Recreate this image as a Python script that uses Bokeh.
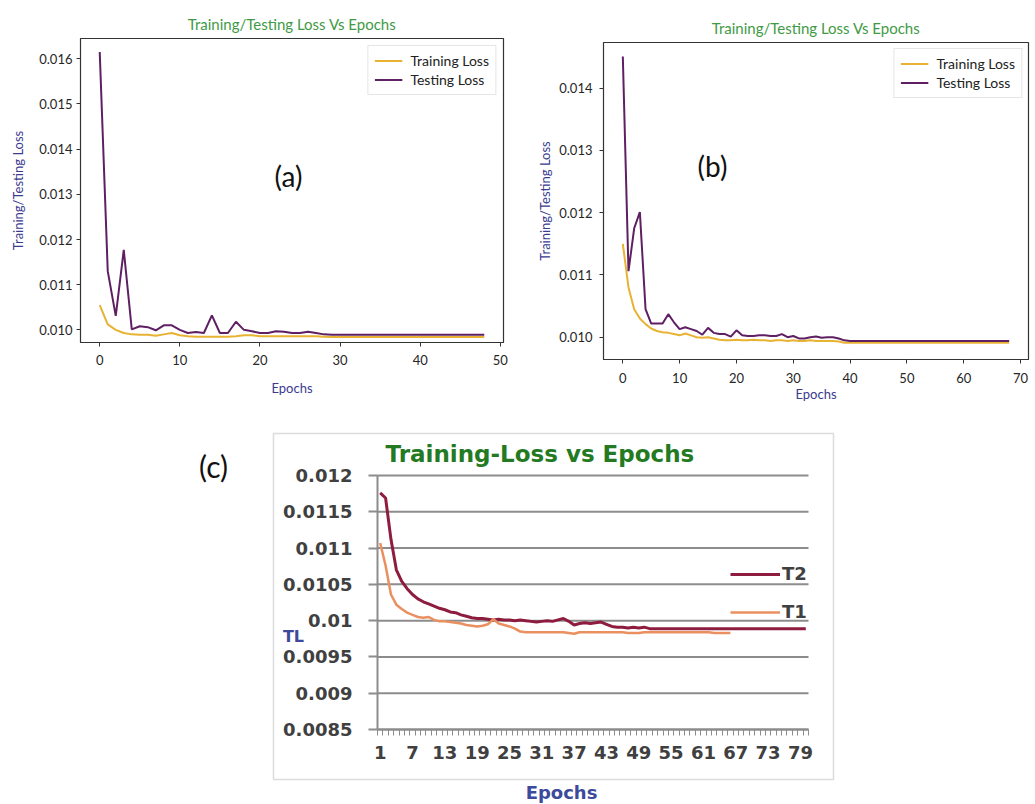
from bokeh.plotting import figure
from bokeh.layouts import column, row
from bokeh.models import (Range1d, FixedTicker, PrintfTickFormatter, NumeralTickFormatter,
                          Legend, LegendItem, Label, BoxAnnotation)
from bokeh.embed import file_html
from bokeh.resources import INLINE

# ---------------- data ----------------
# panel (a)
train_a = [0.01055, 0.01012, 0.01000, 0.00993, 0.00990, 0.00989, 0.00989, 0.00987, 0.00990, 0.00993,
           0.00988, 0.00986, 0.00985, 0.00985, 0.00985, 0.00985, 0.00985, 0.00986, 0.00988, 0.00988,
           0.00986, 0.00986, 0.00986, 0.00986, 0.00986, 0.00986, 0.00986, 0.00986, 0.00985,
           0.00984, 0.00984, 0.00984, 0.00984, 0.00984, 0.00984, 0.00984, 0.00984, 0.00984, 0.00984,
           0.00984, 0.00984, 0.00984, 0.00984, 0.00984, 0.00984, 0.00984, 0.00984, 0.00984, 0.00984]
test_a = [0.01615, 0.01130, 0.01031, 0.01177, 0.01001, 0.01008, 0.01006, 0.00999, 0.01010, 0.01010,
          0.01000, 0.00993, 0.00995, 0.00993, 0.01032, 0.00993, 0.00993, 0.01018, 0.01000, 0.00997,
          0.00993, 0.00993, 0.00997, 0.00996, 0.00993, 0.00993, 0.00996, 0.00993, 0.00990,
          0.00989, 0.00989, 0.00989, 0.00989, 0.00989, 0.00989, 0.00989, 0.00989, 0.00989, 0.00989,
          0.00989, 0.00989, 0.00989, 0.00989, 0.00989, 0.00989, 0.00989, 0.00989, 0.00989, 0.00989]
epochs_a = list(range(len(test_a)))

# panel (b)
train_b = [0.01150, 0.01080, 0.01045, 0.01030, 0.01021, 0.01014, 0.01010, 0.01008, 0.01007, 0.01005,
           0.01003, 0.01006, 0.01003, 0.01000, 0.00999, 0.01000, 0.00998, 0.00996, 0.00995, 0.00995,
           0.00996, 0.00995, 0.00995, 0.00996, 0.00995, 0.00995, 0.00994, 0.00995, 0.00995, 0.00994,
           0.00995, 0.00994, 0.00994, 0.00995, 0.00994, 0.00994, 0.00994, 0.00994, 0.00993,
           0.00991, 0.00991, 0.00991, 0.00991, 0.00991, 0.00991, 0.00991, 0.00991, 0.00991, 0.00991,
           0.00991, 0.00991, 0.00991, 0.00991, 0.00991, 0.00991, 0.00991, 0.00991, 0.00991, 0.00991,
           0.00991, 0.00991, 0.00991, 0.00991, 0.00991, 0.00991, 0.00991, 0.00991, 0.00991, 0.00991]
test_b = [0.01451, 0.01106, 0.01175, 0.01201, 0.01045, 0.01022, 0.01022, 0.01022, 0.01037, 0.01024,
          0.01013, 0.01016, 0.01013, 0.01010, 0.01004, 0.01015, 0.01007, 0.01005, 0.01005, 0.01001,
          0.01011, 0.01003, 0.01002, 0.01002, 0.01003, 0.01003, 0.01002, 0.01002, 0.01005, 0.01000,
          0.01002, 0.00998, 0.00998, 0.01000, 0.01001, 0.00999, 0.01000, 0.01000, 0.00998, 0.00995,
          0.00994, 0.00994, 0.00994, 0.00994, 0.00994, 0.00994, 0.00994, 0.00994, 0.00994, 0.00994,
          0.00994, 0.00994, 0.00994, 0.00994, 0.00994, 0.00994, 0.00994, 0.00994, 0.00994, 0.00994,
          0.00994, 0.00994, 0.00994, 0.00994, 0.00994, 0.00994, 0.00994, 0.00994, 0.00994]
epochs_b = list(range(len(test_b)))

# panel (c)
t2_c = [0.01176, 0.01169, 0.01112, 0.01070, 0.01054, 0.01044, 0.01036, 0.01030, 0.01026, 0.01023,
        0.01020, 0.01017, 0.01015, 0.01012, 0.01011, 0.01008, 0.01006, 0.01004, 0.01003, 0.01003,
        0.01002, 0.01001, 0.01002, 0.01001, 0.01001, 0.01000, 0.01001, 0.01000, 0.00999, 0.00998,
        0.00999, 0.01000, 0.00999, 0.01001, 0.01003, 0.00999, 0.00994, 0.00996, 0.00997, 0.00996,
        0.00997, 0.00998, 0.00995, 0.00992, 0.00991, 0.00991, 0.00990, 0.00991, 0.00990, 0.00991,
        0.00989, 0.00989, 0.00989, 0.00989, 0.00989, 0.00989, 0.00989, 0.00989, 0.00989, 0.00989,
        0.00989, 0.00989, 0.00989, 0.00989, 0.00989, 0.00989, 0.00989, 0.00989, 0.00989, 0.00989,
        0.00989, 0.00989, 0.00989, 0.00989, 0.00989, 0.00989, 0.00989, 0.00989, 0.00989, 0.00989]
t1_c = [0.01107, 0.01076, 0.01036, 0.01022, 0.01016, 0.01011, 0.01008, 0.01005, 0.01004, 0.01005,
        0.01001, 0.00999, 0.00999, 0.00998, 0.00997, 0.00996, 0.00994, 0.00993, 0.00992, 0.00993,
        0.00995, 0.01002, 0.00996, 0.00994, 0.00992, 0.00989, 0.00985, 0.00984, 0.00984, 0.00984,
        0.00984, 0.00984, 0.00984, 0.00984, 0.00984, 0.00983, 0.00982, 0.00984, 0.00984, 0.00984,
        0.00984, 0.00984, 0.00984, 0.00984, 0.00984, 0.00984, 0.00983, 0.00983, 0.00983, 0.00984,
        0.00984, 0.00984, 0.00984, 0.00984, 0.00984, 0.00984, 0.00984, 0.00984, 0.00984, 0.00984,
        0.00984, 0.00984, 0.00983, 0.00983, 0.00983, 0.00983]
epochs_c2 = list(range(1, len(t2_c) + 1))
epochs_c1 = list(range(1, len(t1_c) + 1))

xticks_a = [0, 10, 20, 30, 40, 50]
yticks_a = [0.010, 0.011, 0.012, 0.013, 0.014, 0.015, 0.016]
xticks_b = [0, 10, 20, 30, 40, 50, 60, 70]
yticks_b = [0.010, 0.011, 0.012, 0.013, 0.014]
xticks_c = list(range(1, 80, 6))
yticks_c = [0.0085, 0.009, 0.0095, 0.010, 0.0105, 0.011, 0.0115, 0.012]

TRAIN_COL = "#e8b233"
TEST_COL = "#5e1f63"
FONT = "Lato"


def style_mpl(p, xticks, yticks, title):
    p.title.text = title
    p.title.align = "center"
    p.title.text_font = FONT
    p.title.text_font_size = "15px"
    p.title.text_font_style = "normal"
    p.title.text_color = "#3f9a45"
    p.title.standoff = 12
    p.xaxis.ticker = FixedTicker(ticks=xticks)
    p.yaxis.ticker = FixedTicker(ticks=yticks)
    p.yaxis.formatter = PrintfTickFormatter(format="%.3f")
    p.grid.visible = False
    p.outline_line_color = "#333333"
    p.outline_line_width = 1.2
    for ax in p.axis:
        ax.axis_line_color = "#333333"
        ax.major_tick_line_color = "#333333"
        ax.major_tick_out = 4
        ax.major_tick_in = 0
        ax.minor_tick_line_color = None
        ax.major_label_text_font = FONT
        ax.major_label_text_font_size = "13px"
        ax.major_label_text_color = "#262626"
        ax.axis_label_text_font = FONT
        ax.axis_label_text_font_size = "13px"
        ax.axis_label_text_font_style = "normal"
        ax.axis_label_text_color = "#3b3b8f"


def add_legend(p, r_train, r_test, margin):
    leg = Legend(items=[LegendItem(label="Training Loss", renderers=[r_train]),
                        LegendItem(label="Testing Loss", renderers=[r_test])],
                 location="top_right", margin=margin, padding=6, spacing=2,
                 glyph_width=28, glyph_height=17, label_height=17, label_standoff=8,
                 label_text_font=FONT, label_text_font_size="14px", label_text_color="#222222",
                 border_line_color="#cccccc", background_fill_alpha=0.9)
    p.add_layout(leg)


# ---------------- panel (a) ----------------
pa = figure(width=528, height=406, output_backend="svg", toolbar_location=None, frame_align=False,
            x_range=Range1d(-2.4, 50.4), y_range=Range1d(0.00972, 0.01645),
            min_border_left=80, min_border_right=25, min_border_top=38, min_border_bottom=64,
            x_axis_label="Epochs", y_axis_label="Training/Testing Loss")
style_mpl(pa, xticks_a, yticks_a, "Training/Testing Loss Vs Epochs")
pa.xaxis.major_label_standoff = 8
pa.xaxis.axis_label_standoff = 12
pa.yaxis.major_label_standoff = 4
pa.yaxis.axis_label_standoff = 10
ra1 = pa.line(epochs_a, train_a, line_color=TRAIN_COL, line_width=2)
ra2 = pa.line(epochs_a, test_a, line_color=TEST_COL, line_width=2)
add_legend(pa, ra1, ra2, 7)
pa.add_layout(Label(x=208, y=167, x_units="screen", y_units="screen", text="(a)",
                    text_align="center", text_baseline="middle", text_font=FONT,
                    text_font_size="28px", text_color="#111111"))

# ---------------- panel (b) ----------------
pb = figure(width=507, height=406, output_backend="svg", toolbar_location=None, frame_align=False,
            x_range=Range1d(-3.4, 71.4), y_range=Range1d(0.009642, 0.014734),
            min_border_left=75, min_border_right=7, min_border_top=42, min_border_bottom=47,
            x_axis_label="Epochs", y_axis_label="Training/Testing Loss")
style_mpl(pb, xticks_b, yticks_b, "Training/Testing Loss Vs Epochs")
pb.xaxis.major_label_standoff = 9
pb.xaxis.axis_label_standoff = 0
pb.yaxis.major_label_standoff = 7
pb.yaxis.axis_label_standoff = 3
rb1 = pb.line(epochs_b, train_b, line_color=TRAIN_COL, line_width=2)
rb2 = pb.line(epochs_b, test_b, line_color=TEST_COL, line_width=2)
add_legend(pb, rb1, rb2, 6)
pb.add_layout(Label(x=109, y=194, x_units="screen", y_units="screen", text="(b)",
                    text_align="center", text_baseline="middle", text_font=FONT,
                    text_font_size="28px", text_color="#111111"))

# ---------------- panel (c) ----------------
# The frame covers the whole chart area; the axes are pinned inside it.
CF = "DejaVu Sans"
GRAY = "#8c8c8c"
PX_X = 431.0 / 80.0          # pixels per epoch
PX_Y = 254.0 / 0.0035        # pixels per loss unit
pc = figure(width=1035, height=398, output_backend="svg", toolbar_location=None, frame_align=False,
            x_range=Range1d(0.5 - 187 / PX_X, 80.5 + 32 / PX_X),
            y_range=Range1d(0.0085 - 75 / PX_Y, 0.012 + 45 / PX_Y),
            min_border_left=190, min_border_right=195, min_border_top=24, min_border_bottom=0)
pc.outline_line_color = None
pc.grid.visible = False
pc.yaxis.fixed_location = 0.5
pc.xaxis.fixed_location = 0.0085
pc.yaxis.bounds = (0.0085, 0.012)
pc.xaxis.bounds = (0.5, 80.5)
pc.yaxis.ticker = FixedTicker(ticks=yticks_c)
pc.yaxis.formatter = NumeralTickFormatter(format="0.0[000]")
pc.xaxis.ticker = FixedTicker(ticks=xticks_c, minor_ticks=[i + 0.5 for i in range(0, 81)])
for ax in pc.axis:
    ax.axis_line_color = GRAY
    ax.axis_line_width = 2
    ax.major_label_text_font = CF
    ax.major_label_text_font_style = "bold"
    ax.major_label_text_font_size = "18px"
    ax.major_label_text_color = "#404040"
pc.yaxis.major_tick_out = 9
pc.yaxis.major_tick_in = 0
pc.yaxis.major_tick_line_color = GRAY
pc.yaxis.major_tick_line_width = 2
pc.yaxis.minor_tick_line_color = None
pc.yaxis.major_label_standoff = 16
pc.xaxis.major_tick_line_color = None
pc.xaxis.major_tick_out = 6
pc.xaxis.major_label_standoff = 10
pc.xaxis.minor_tick_line_color = GRAY
pc.xaxis.minor_tick_out = 6
pc.xaxis.minor_tick_in = 0

# horizontal gridlines at the y ticks, spanning the category range
pc.segment(x0=[0.5] * len(yticks_c), x1=[80.5] * len(yticks_c), y0=yticks_c, y1=yticks_c,
           line_color=GRAY, line_width=2)

rc2 = pc.line(epochs_c2, t2_c, line_color="#8e1c3f", line_width=3)
rc1 = pc.line(epochs_c1, t1_c, line_color="#ea9060", line_width=2.5)
legc = Legend(items=[LegendItem(label="T2", renderers=[rc2]), LegendItem(label="T1", renderers=[rc1])],
              location=(540, 182), glyph_width=50, glyph_height=20, label_height=20, spacing=17,
              padding=0, margin=0, label_standoff=2, border_line_color=None,
              background_fill_alpha=0, label_text_font=CF, label_text_font_style="bold",
              label_text_font_size="18px", label_text_color="#404040")
pc.add_layout(legc)

# chart-area border (screen units relative to the frame)
pc.add_layout(BoxAnnotation(left=83, right=643, top=371, bottom=25,
                            left_units="screen", right_units="screen",
                            top_units="screen", bottom_units="screen",
                            fill_alpha=0, line_color=GRAY, line_width=1.5))
pc.add_layout(Label(x=195, y=351, x_units="screen", y_units="screen",
                    text="Training-Loss vs Epochs", text_align="left", text_baseline="middle",
                    text_font=CF, text_font_style="bold", text_font_size="23px",
                    text_color="#237a23"))
pc.add_layout(Label(x=23, y=339, x_units="screen", y_units="screen", text="(c)",
                    text_align="center", text_baseline="middle", text_font=FONT,
                    text_font_size="30px", text_color="#111111"))
pc.add_layout(Label(x=103, y=168, x_units="screen", y_units="screen", text="TL",
                    text_align="center", text_baseline="middle", text_font=CF,
                    text_font_style="bold", text_font_size="16px", text_color="#3d4a9c"))
pc.add_layout(Label(x=371, y=12, x_units="screen", y_units="screen", text="Epochs",
                    text_align="center", text_baseline="middle", text_font=CF,
                    text_font_style="bold", text_font_size="18px", text_color="#3d4a9c"))

layout = column(row(pa, pb), pc)
open("out.html", "w").write(file_html(layout, INLINE))
